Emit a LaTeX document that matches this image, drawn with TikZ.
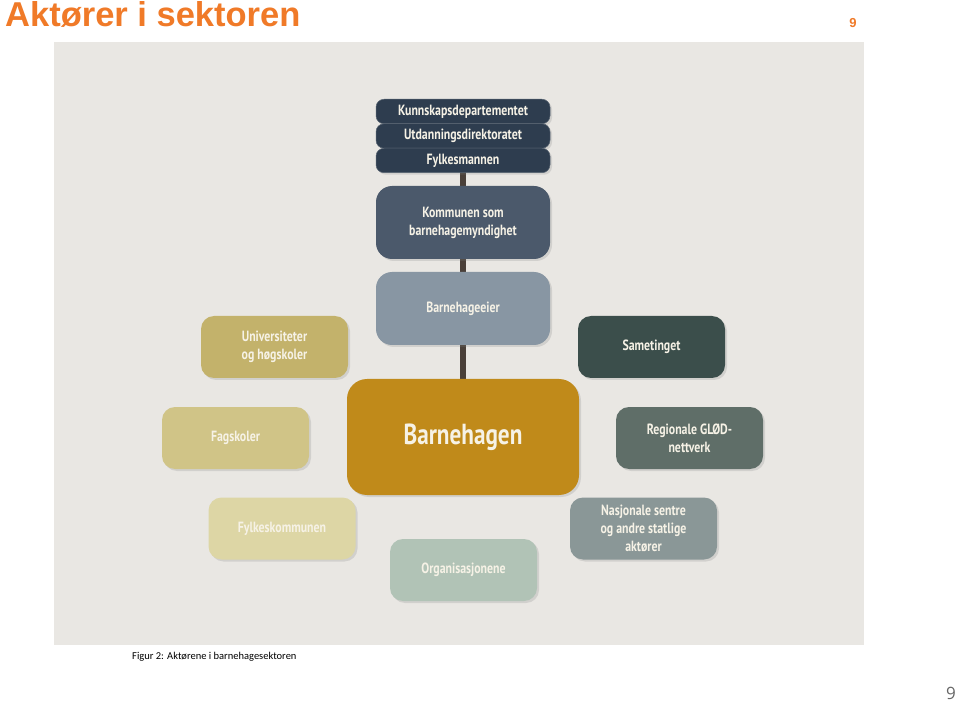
\documentclass[tikz,border=0pt]{standalone}
\usepackage{fontspec}
\setmainfont{PT Sans}
\newfontfamily\cond[FakeStretch=0.8]{PT Sans}
\newfontfamily\arialb{Liberation Sans}
\newfontfamily\capfont{Carlito}
\newfontfamily\pgfont{Open Sans}
\usetikzlibrary{shadows}
\pgfdeclarelayer{bg}
\pgfdeclarelayer{mid}
\pgfsetlayers{bg,mid,main}
\definecolor{pagebg}{HTML}{E9E7E3}
\definecolor{cdark}{HTML}{2E3D4F}
\definecolor{ckom}{HTML}{4B596B}
\definecolor{ceier}{HTML}{8896A3}
\definecolor{cuni}{HTML}{C3B26B}
\definecolor{csame}{HTML}{3B4E4B}
\definecolor{cbh}{HTML}{C08A1A}
\definecolor{cfag}{HTML}{D0C487}
\definecolor{cglod}{HTML}{5F6E68}
\definecolor{cfylk}{HTML}{DDD6A5}
\definecolor{cnas}{HTML}{8A9797}
\definecolor{corg}{HTML}{B1C3B6}
\definecolor{cline}{HTML}{4A4039}
\definecolor{orangeT}{HTML}{F07A28}
\definecolor{txtw}{HTML}{F6F2E6}
\tikzset{
  actor/.style={rounded corners=13pt, text=txtw, align=center, inner sep=0pt,
    font=\cond\bfseries\fontsize{14.8}{18}\selectfont,
    drop shadow={shadow xshift=2pt, shadow yshift=-2pt, opacity=0.22}},
  small/.style={actor, minimum width=147pt, minimum height=62pt},
  topbox/.style={actor, rounded corners=8pt, minimum width=174pt, minimum height=24.5pt,
    fill=cdark, draw=cdark!80!white, line width=0.5pt},
  midbox/.style={actor, rounded corners=16pt, minimum width=174pt, minimum height=73pt},
}
\begin{document}
\begin{tikzpicture}[x=1pt,y=-1pt]
\useasboundingbox (0,0) rectangle (959,703);
\begin{pgfonlayer}{bg}
\fill[white] (0,0) rectangle (959,703);
\fill[pagebg] (54,42) rectangle (864,645);
\end{pgfonlayer}
\node[anchor=base west, text=orangeT, font=\arialb\bfseries\fontsize{34.5}{36}\selectfont, inner sep=0pt] (title) at (5,27) {Aktører i sektoren};
\node[anchor=base, text=orangeT, font=\arialb\bfseries\fontsize{13}{14}\selectfont, inner sep=0pt] (pnum) at (853,28) {9};
\node[anchor=base west, font=\capfont\fontsize{10.5}{12}\selectfont, inner sep=0pt] (cap) at (132,659) {Figur 2: Aktørene i barnehagesektoren};
\node[anchor=base, text=black!60, font=\pgfont\fontsize{17}{18}\selectfont, inner sep=0pt] (pnum2) at (951,699) {9};

\node[topbox] (kd) at (463,111.5) {Kunnskapsdepartementet};
\node[topbox] (ud) at (463,136) {Utdanningsdirektoratet};
\node[topbox] (fm) at (463,160.5) {Fylkesmannen};
\node[midbox, fill=ckom] (kom) at (463,222.5) {Kommunen som\\barnehagemyndighet};
\node[midbox, fill=ceier] (eier) at (463,308.5) {Barnehageeier};
\node[small, fill=cuni] (uni) at (274.5,347) {Universiteter\\og høgskoler};
\node[small, fill=csame] (same) at (651.5,347) {Sametinget};
\node[actor, rounded corners=20pt, fill=cbh, minimum width=232pt, minimum height=116pt,
  font=\cond\bfseries\fontsize{29}{32}\selectfont] (bh) at (463,437) {Barnehagen};
\node[small, fill=cfag] (fag) at (235.5,438) {Fagskoler};
\node[small, fill=cglod] (glod) at (689.5,438) {Regionale GLØD-\\nettverk};
\node[small, fill=cfylk] (fylk) at (282,528.5) {Fylkeskommunen};
\node[small, fill=cnas] (nas) at (643.5,528.5) {Nasjonale sentre\\og andre statlige\\aktører};
\node[small, fill=corg] (org) at (463.5,570) {Organisasjonene};

\begin{pgfonlayer}{mid}
\draw[cline, line width=6pt] (fm.center) -- (bh.center);
\end{pgfonlayer}
\end{tikzpicture}
\end{document}
